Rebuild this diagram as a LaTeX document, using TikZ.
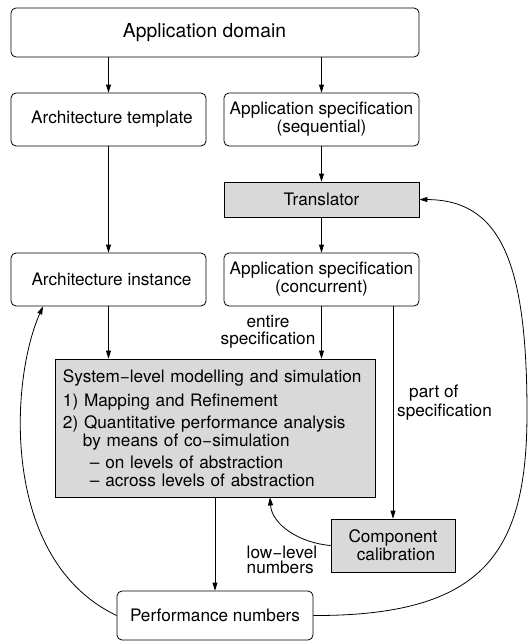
\documentclass[tikz,border=0pt]{standalone}
\usepackage{fontspec}
\setmainfont{TeX Gyre Heros}
\usetikzlibrary{arrows.meta}

\definecolor{boxgray}{HTML}{D9D9D9}

\tikzset{
  every node/.style={font=\fontsize{17.2}{18}\selectfont},
  base/.style={draw=black, line width=0.8pt, inner sep=0pt, align=center},
  roundbox/.style={base, rounded corners=5pt, fill=white},
  graybox/.style={base, fill=boxgray},
  flow/.style={draw=black, line width=0.8pt, -{Triangle[length=8pt,width=5pt]}},
  lbl/.style={inner sep=0pt}
}

\begin{document}
\begin{tikzpicture}[x=1pt, y=1pt]
  \useasboundingbox (0,0) rectangle (532,-641);

  % boxes
  \node[roundbox, minimum width=408, minimum height=49,
        font=\fontsize{19.3}{20}\selectfont] (dom) at (215,-32.5)
        {Application domain\hspace*{21pt}};
  \node[roundbox, minimum width=195, minimum height=53] (tmpl) at (108.5,-119.5)
        {\hspace*{7pt}Architecture template};
  \node[roundbox, minimum width=195, minimum height=53] (seq) at (321.5,-119.5)
        {Application specification\\(sequential)};
  \node[graybox, minimum width=195, minimum height=35] (tr) at (321.5,-199.5)
        {Translator};
  \node[roundbox, minimum width=195, minimum height=53] (inst) at (108.5,-279.5)
        {\hspace*{6pt}Architecture instance};
  \node[roundbox, minimum width=195, minimum height=53] (conc) at (321.5,-279.5)
        {Application specification\\(concurrent)};
  \node[graybox, minimum width=320, minimum height=138, text width=304,
        align=left] (sys) at (215,-428)
        {System−level modelling and simulation\\[6pt]
         1) Mapping and Refinement\\[4pt]
         2) Quantitative performance analysis\\
         \hspace*{20pt}by means of co−simulation\\[4pt]
         \hspace*{27pt}– on levels of abstraction\\
         \hspace*{27pt}– across levels of abstraction};
  \node[graybox, minimum width=124, minimum height=53] (cc) at (393,-545.5)
        {Component\\\hspace*{6pt}calibration};
  \node[roundbox, minimum width=196, minimum height=49] (perf) at (215,-615.5)
        {Performance numbers};

  % edge labels
  \node[lbl, align=center, font=\fontsize{17.2}{17}\selectfont] (lentire) at (268,-331.5)
        {entire\\specification};
  \node[lbl, align=left, anchor=west, font=\fontsize{17.2}{19}\selectfont] (lpart) at (397,-402.5)
        {\hspace*{12pt}part of\\specification};
  \node[lbl, align=left, anchor=west, font=\fontsize{17.2}{14.5}\selectfont] (llow) at (246.5,-560)
        {low−level\\numbers};

  % straight connectors
  \draw[flow] (tmpl.north |- dom.south) -- (tmpl.north);
  \draw[flow] (seq.north |- dom.south) -- (seq.north);
  \draw[flow] (seq.south) -- (tr.north);
  \draw[flow] (tmpl.south) -- (inst.north);
  \draw[flow] (tr.south) -- (conc.north);
  \draw[flow] (inst.south) -- (inst.south |- sys.north);
  \draw[flow] (conc.south) -- (conc.south |- sys.north);
  \draw[flow] (cc.north |- conc.south) -- (cc.north);
  \draw[flow] (sys.south) -- (perf.north);

  % feedback curves
  \coordinate (calin) at ([xshift=55pt]sys.south);
  \draw[flow] (cc.west) .. controls (300,-543) and (272,-525) .. (calin);
  \coordinate (archin) at ([xshift=-65.5pt]inst.south);
  \draw[flow] (perf.west) .. controls (0,-560) and (10,-380) .. (archin);
  \coordinate (rightmost) at (527,-413);
  \draw[flow] (perf.east) .. controls (484,-616) and (527,-553) .. (rightmost)
              .. controls (527,-263) and (501,-200) .. (tr.east);
\end{tikzpicture}
\end{document}
